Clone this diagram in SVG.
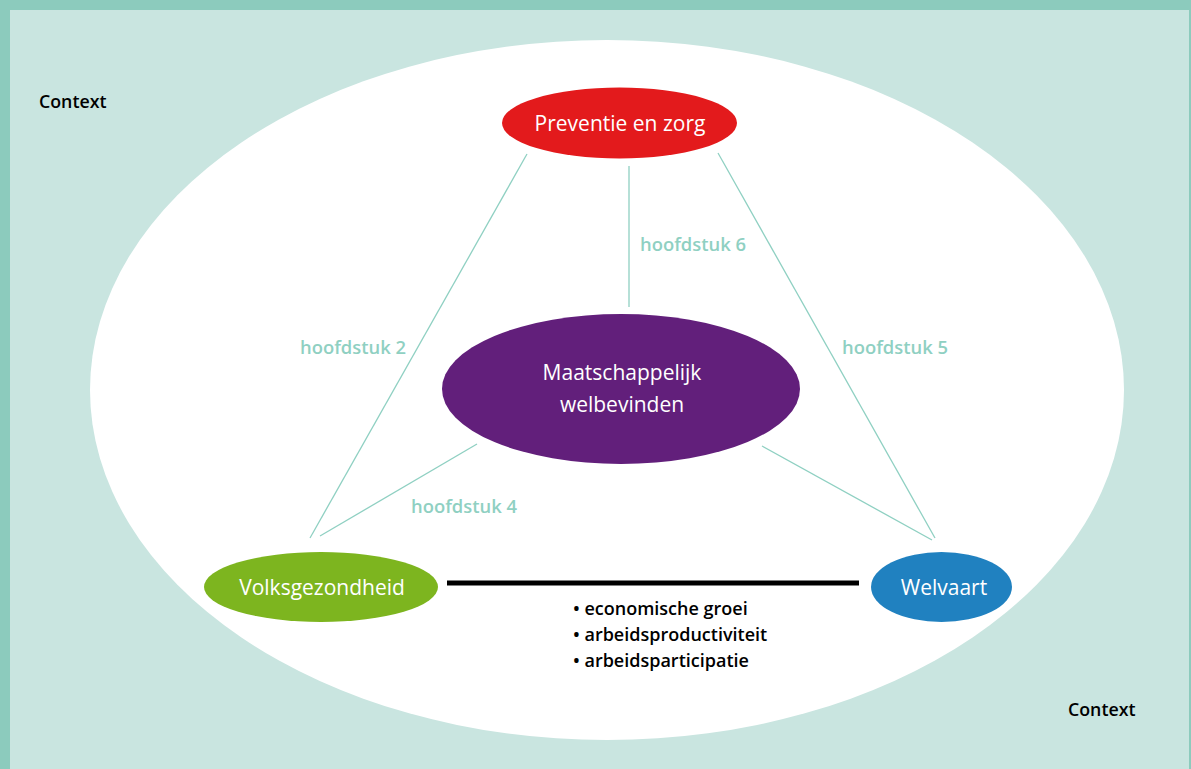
<svg xmlns="http://www.w3.org/2000/svg" width="1191" height="769" viewBox="0 0 1191 769">
<style>
text{font-variant-ligatures:none}
.nt{font-family:"Open Sans",Lato,sans-serif;font-size:21px;fill:#fff;text-anchor:middle;dominant-baseline:central}
.hl{font-family:"Open Sans",Lato,sans-serif;font-size:18.4px;font-weight:600;fill:#8fd0c2;text-anchor:middle;dominant-baseline:central}
.ctx{font-family:"Open Sans",Lato,sans-serif;font-size:17.8px;font-weight:600;fill:#000;dominant-baseline:central}
.con{stroke:#8fd0c2;stroke-width:1.3;fill:none}
</style>
<rect x="0" y="0" width="1191" height="769" fill="#8ccbbd"/>
<rect x="10" y="10" width="1179" height="759" fill="#c9e5e0"/>
<ellipse cx="607" cy="390" rx="517" ry="350" fill="#fff"/>
<text class="ctx" x="39" y="101">Context</text>
<text class="ctx" x="1068" y="709">Context</text>
<g id="connectors">
<line class="con" x1="527" y1="154" x2="310" y2="538"/>
<line class="con" x1="629" y1="166" x2="629" y2="307"/>
<line class="con" x1="718" y1="153" x2="935" y2="538"/>
<line class="con" x1="477" y1="444" x2="320" y2="536"/>
<line class="con" x1="762" y1="446" x2="932" y2="540"/>
<line x1="447" y1="583" x2="859" y2="583" stroke="#000" stroke-width="5"/>
<text class="hl" x="693" y="243">hoofdstuk 6</text>
<text class="hl" x="353" y="346">hoofdstuk 2</text>
<text class="hl" x="895" y="346">hoofdstuk 5</text>
<text class="hl" x="464" y="505">hoofdstuk 4</text>
</g>
<g id="preventie">
<ellipse cx="619.5" cy="123" rx="117.5" ry="35.5" fill="#e31a1c"/>
<text class="nt" x="620" y="123">Preventie en zorg</text>
</g>
<g id="maatschappelijk">
<ellipse cx="621" cy="389" rx="179" ry="75" fill="#621f7b"/>
<text class="nt" x="622" y="372">Maatschappelijk</text>
<text class="nt" x="622" y="404">welbevinden</text>
</g>
<g id="volksgezondheid">
<ellipse cx="321" cy="587" rx="117" ry="35" fill="#7db51f"/>
<text class="nt" x="322" y="587">Volksgezondheid</text>
</g>
<g id="welvaart">
<ellipse cx="941.5" cy="587" rx="70.5" ry="35" fill="#2081c0"/>
<text class="nt" x="944" y="587">Welvaart</text>
</g>
<g id="bullets" font-family="'Open Sans',Lato,sans-serif" font-size="18" font-weight="600" fill="#000">
<text x="573" y="615">• economische groei</text>
<text x="573" y="641">• arbeidsproductiviteit</text>
<text x="573" y="667">• arbeidsparticipatie</text>
</g>
</svg>
